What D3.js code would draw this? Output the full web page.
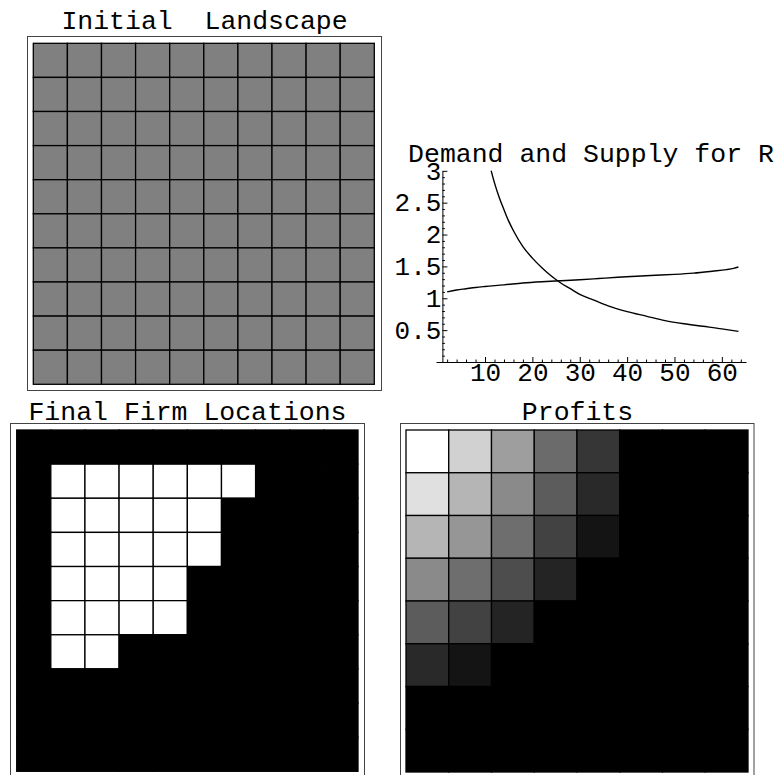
<!DOCTYPE html>
<html>
<head>
<meta charset="utf-8">
<script src="https://cdn.jsdelivr.net/npm/d3@7"></script>
<style>
  body { margin: 0; background: #fff; }
  svg { display: block; }
  text { font-family: "Liberation Mono", "Courier New", monospace; fill: #000; }
</style>
</head>
<body>
<svg id="chart" width="779" height="775"></svg>
<script>
// ---- Data ----------------------------------------------------------------
// Initial landscape: uniform gray level on a 10x10 grid
const initialLandscape = [
  [0.5,0.5,0.5,0.5,0.5,0.5,0.5,0.5,0.5,0.5],
  [0.5,0.5,0.5,0.5,0.5,0.5,0.5,0.5,0.5,0.5],
  [0.5,0.5,0.5,0.5,0.5,0.5,0.5,0.5,0.5,0.5],
  [0.5,0.5,0.5,0.5,0.5,0.5,0.5,0.5,0.5,0.5],
  [0.5,0.5,0.5,0.5,0.5,0.5,0.5,0.5,0.5,0.5],
  [0.5,0.5,0.5,0.5,0.5,0.5,0.5,0.5,0.5,0.5],
  [0.5,0.5,0.5,0.5,0.5,0.5,0.5,0.5,0.5,0.5],
  [0.5,0.5,0.5,0.5,0.5,0.5,0.5,0.5,0.5,0.5],
  [0.5,0.5,0.5,0.5,0.5,0.5,0.5,0.5,0.5,0.5],
  [0.5,0.5,0.5,0.5,0.5,0.5,0.5,0.5,0.5,0.5]
];

// Final firm locations: 1 = firm present, 0 = empty
const firmLocations = [
  [0,0,0,0,0,0,0,0,0,0],
  [0,1,1,1,1,1,1,0,0,0],
  [0,1,1,1,1,1,0,0,0,0],
  [0,1,1,1,1,1,0,0,0,0],
  [0,1,1,1,1,0,0,0,0,0],
  [0,1,1,1,1,0,0,0,0,0],
  [0,1,1,0,0,0,0,0,0,0],
  [0,0,0,0,0,0,0,0,0,0],
  [0,0,0,0,0,0,0,0,0,0],
  [0,0,0,0,0,0,0,0,0,0]
];

// Profits (normalised, shown as gray level) on an 8x8 grid
const profits = [
  [1.00,0.82,0.62,0.42,0.21,0,0,0],
  [0.88,0.71,0.54,0.36,0.16,0,0,0],
  [0.71,0.59,0.43,0.26,0.08,0,0,0],
  [0.54,0.43,0.30,0.14,0,0,0,0],
  [0.36,0.26,0.14,0,0,0,0,0],
  [0.16,0.08,0,0,0,0,0,0],
  [0,0,0,0,0,0,0,0],
  [0,0,0,0,0,0,0,0]
];

// Demand and supply curves for R
const demandX = [11.3, 12, 13, 14, 15, 16, 18, 20, 22, 24, 26, 28, 30, 33, 36, 40, 44, 48, 52, 56, 60, 63.5];
const demandY = [3.00, 2.81, 2.58, 2.39, 2.21, 2.06, 1.81, 1.63, 1.48, 1.35, 1.24, 1.15, 1.06, 0.97, 0.88, 0.79, 0.72, 0.65, 0.60, 0.56, 0.52, 0.48];
const supplyX = [2, 4, 6, 8, 10, 14, 18, 22, 26, 30, 34, 38, 42, 46, 50, 54, 58, 61, 62.5, 63.5];
const supplyY = [1.10, 1.13, 1.15, 1.17, 1.185, 1.21, 1.24, 1.26, 1.275, 1.29, 1.31, 1.33, 1.345, 1.36, 1.375, 1.395, 1.425, 1.45, 1.47, 1.49];

const xTicks = [10, 20, 30, 40, 50, 60];
const yTicks = [0.5, 1, 1.5, 2, 2.5, 3];
const yTickLabels = ["0.5", "1", "1.5", "2", "2.5", "3"];

// ---- Drawing ---------------------------------------------------------------
const svg = d3.select("#chart");
const gray = d3.scaleLinear().domain([0, 1]).range(["#000000", "#ffffff"]);

function title(x, y, txt) {
  svg.append("text")
    .attr("x", x).attr("y", y)
    .attr("text-anchor", "middle")
    .attr("xml:space", "preserve")
    .style("white-space", "pre")
    .style("font-size", "26.5px")
    .text(txt);
}

function frame(x0, y0, x1, y1) {
  svg.append("rect")
    .attr("x", x0).attr("y", y0)
    .attr("width", x1 - x0).attr("height", y1 - y0)
    .attr("fill", "none")
    .attr("stroke", "#444")
    .attr("stroke-width", 1);
}

function cellGrid(matrix, x0, y0, size) {
  const n = matrix.length;
  const band = d3.scaleBand().domain(d3.range(n)).range([0, size]);
  const g = svg.append("g").attr("transform", `translate(${x0},${y0})`);
  const cells = matrix.flatMap((row, r) => row.map((v, c) => ({ r, c, v })));
  g.selectAll("rect")
    .data(cells)
    .join("rect")
    .attr("x", d => band(d.c))
    .attr("y", d => band(d.r))
    .attr("width", band.bandwidth())
    .attr("height", band.bandwidth())
    .attr("fill", d => gray(d.v))
    .attr("stroke", "#000")
    .attr("stroke-width", 1.3);
}

// Panel: Initial Landscape
title(204.5, 28.5, "Initial  Landscape");
frame(27.5, 36.5, 381.5, 390.5);
cellGrid(initialLandscape, 33.3, 43.3, 341);

// Panel: Final Firm Locations
title(187.5, 419.5, "Final Firm Locations");
frame(10.5, 423.5, 364.5, 778);
cellGrid(firmLocations, 16.7, 430, 341.3);

// Panel: Profits
title(577.5, 420, "Profits");
frame(400.5, 423.5, 754, 778);
cellGrid(profits, 406, 430, 342);

// Panel: Demand and Supply for R
title(591, 161.7, "Demand and Supply for R");

const x = d3.scaleLinear().domain([-0.35, 65.1]).range([436, 746]);
const y = d3.scaleLinear().domain([0, 3]).range([362, 170.8]);
const axisX0 = 1; // vertical axis crosses at x = 1

const plot = svg.append("g");

// minor ticks
plot.append("g")
  .attr("transform", `translate(0,${y(0)})`)
  .call(d3.axisBottom(x).tickValues(d3.range(2, 65, 2).filter(v => v % 10 !== 0))
    .tickSizeInner(-2.5).tickSizeOuter(0).tickFormat(""))
  .call(g => g.select(".domain").remove());
plot.append("g")
  .attr("transform", `translate(${x(axisX0)},0)`)
  .call(d3.axisLeft(y).tickValues(d3.range(1, 30).map(v => v / 10).filter(v => Math.round(v * 10) % 5 !== 0))
    .tickSizeInner(-2.5).tickSizeOuter(0).tickFormat(""))
  .call(g => g.select(".domain").remove());

// major ticks and labels
const xAxis = plot.append("g")
  .attr("transform", `translate(0,${y(0)})`)
  .call(d3.axisBottom(x).tickValues(xTicks).tickSizeInner(-5).tickSizeOuter(0).tickPadding(1));
const yAxis = plot.append("g")
  .attr("transform", `translate(${x(axisX0)},0)`)
  .call(d3.axisLeft(y).tickValues(yTicks).tickSizeInner(-5).tickSizeOuter(0).tickPadding(1)
    .tickFormat((d, i) => yTickLabels[i]));

[xAxis, yAxis].forEach(a => {
  a.selectAll("text").style("font-size", "26px").attr("font-family", null);
  a.selectAll("line, path").attr("stroke", "#000").attr("stroke-width", 1);
});
plot.selectAll("line").attr("stroke", "#000");

// curves
const line = d3.line().x(d => x(d[0])).y(d => y(d[1])).curve(d3.curveMonotoneX);
plot.append("path")
  .datum(demandX.map((v, i) => [v, demandY[i]]))
  .attr("d", line)
  .attr("fill", "none").attr("stroke", "#000").attr("stroke-width", 1.4);
plot.append("path")
  .datum(supplyX.map((v, i) => [v, supplyY[i]]))
  .attr("d", line)
  .attr("fill", "none").attr("stroke", "#000").attr("stroke-width", 1.4);
</script>
</body>
</html>
